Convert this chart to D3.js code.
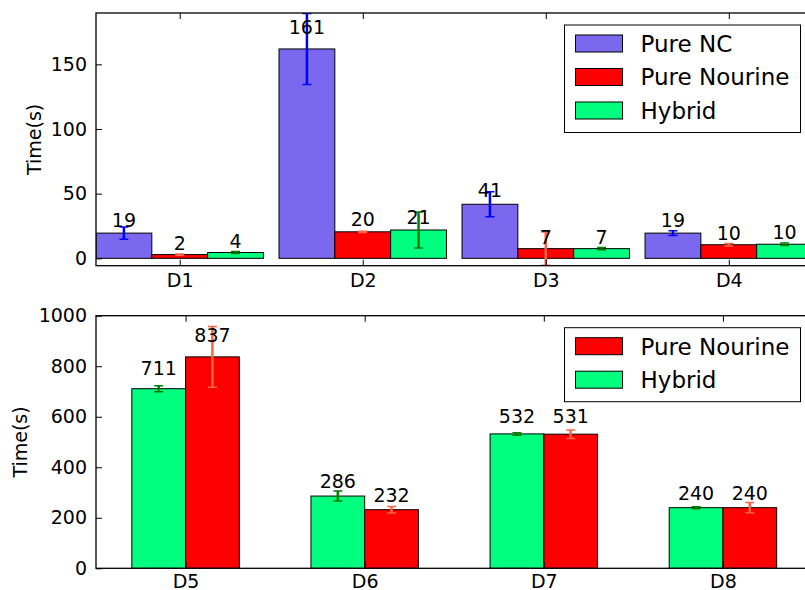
<!DOCTYPE html>
<html>
<head>
<meta charset="utf-8">
<script src="https://cdn.jsdelivr.net/npm/d3@7"></script>
<style>
  body { margin: 0; background: #fff; }
  svg { display: block; font-family: "DejaVu Sans", sans-serif; }
</style>
</head>
<body>
<div id="chart"></div>
<script>
// top panel data
const topCategories = ["D1", "D2", "D3", "D4"];
const topNC = [19.5, 161.9, 41.8, 19.5];
const topNCErr = [4.8, 27.5, 9.6, 1.8];
const topNourine = [2.9, 20.5, 7.5, 10.5];
const topNourineErr = [0.5, 0.5, 12.8, 1.0];
const topHybrid = [4.5, 21.9, 7.5, 10.9];
const topHybridErr = [0.8, 14, 0.8, 1.0];
const topTicks = [0, 50, 100, 150];

// bottom panel data
const bottomCategories = ["D5", "D6", "D7", "D8"];
const bottomHybrid = [711, 286, 532, 240];
const bottomHybridErr = [12, 20, 5, 4];
const bottomNourine = [837, 232, 531, 240];
const bottomNourineErr = [120, 13, 17, 20];
const bottomTicks = [0, 200, 400, 600, 800, 1000];

const colors = {
  nc: { fill: "#7b68ee", err: "#0000ff" },
  nourine: { fill: "#ff0000", err: "#ff6347" },
  hybrid: { fill: "#00ff7f", err: "#008000" }
};

const width = 805, height = 590;
const fontSize = 19;
const svg = d3.select("#chart").append("svg")
  .attr("width", width).attr("height", height);
svg.append("rect").attr("width", width).attr("height", height).attr("fill", "#fff");

function drawPanel(cfg) {
  const { left, right, top, bottom } = cfg.box;
  const g = svg.append("g");
  const clipId = "clip-" + cfg.name;
  svg.append("clipPath").attr("id", clipId)
    .append("rect").attr("x", left).attr("y", top)
    .attr("width", right - left).attr("height", bottom - top);

  const x = d3.scaleLinear().domain(cfg.xDomain).range([left, right]);
  const y = d3.scaleLinear().domain(cfg.yDomain).range([bottom, top]);

  const plot = g.append("g").attr("clip-path", `url(#${clipId})`);

  // bars
  cfg.series.forEach((s, si) => {
    const x0 = i => i + cfg.offset + si * cfg.barWidth;
    plot.selectAll(null).data(s.values).enter().append("rect")
      .attr("x", (d, i) => x(x0(i)))
      .attr("width", x(cfg.barWidth) - x(0))
      .attr("y", d => y(d))
      .attr("height", d => y(0) - y(d))
      .attr("fill", colors[s.key].fill)
      .attr("stroke", "#000")
      .attr("stroke-width", 1);
  });

  // value labels
  cfg.series.forEach((s, si) => {
    const xc = i => i + cfg.offset + (si + 0.5) * cfg.barWidth;
    g.selectAll(null).data(s.values).enter().append("text")
      .attr("x", (d, i) => x(xc(i)))
      .attr("y", d => y(1.05 * d) - 4.5)
      .attr("text-anchor", "middle")
      .attr("font-size", fontSize)
      .attr("fill", "#000")
      .text(d => Math.floor(d));
  });

  // error bars
  cfg.series.forEach((s, si) => {
    const xc = i => x(i + cfg.offset + (si + 0.5) * cfg.barWidth);
    const eg = plot.append("g").attr("stroke", colors[s.key].err);
    s.values.forEach((v, i) => {
      const e = s.errors[i];
      eg.append("line")
        .attr("x1", xc(i)).attr("x2", xc(i))
        .attr("y1", y(v - e)).attr("y2", y(v + e))
        .attr("stroke-width", 2.5);
      [v - e, v + e].forEach(c => {
        eg.append("line")
          .attr("x1", xc(i) - 4.5).attr("x2", xc(i) + 4.5)
          .attr("y1", y(c)).attr("y2", y(c))
          .attr("stroke-width", 1.5);
      });
    });
  });

  // axes with inward ticks on all sides
  const tickPos = cfg.categories.map((c, i) => i + cfg.tickOffset);
  const yLeft = d3.axisLeft(y).tickValues(cfg.yTicks).tickSize(-6).tickSizeOuter(0)
    .tickPadding(9).tickFormat(d3.format("d"));
  const yRight = d3.axisRight(y).tickValues(cfg.yTicks).tickSize(-6).tickSizeOuter(0).tickFormat("");
  const xBottom = d3.axisBottom(x).tickValues(tickPos).tickSize(-6).tickSizeOuter(0)
    .tickPadding(cfg.xPad).tickFormat((d, i) => cfg.categories[i]);
  const xTop = d3.axisTop(x).tickValues(tickPos).tickSize(-6).tickSizeOuter(0).tickFormat("");

  const axes = [
    [yLeft, `translate(${left},0)`],
    [yRight, `translate(${right},0)`],
    [xBottom, `translate(0,${bottom})`],
    [xTop, `translate(0,${top})`]
  ];
  axes.forEach(([ax, tr]) => {
    const a = g.append("g").attr("transform", tr).call(ax);
    a.select(".domain").remove();
    a.selectAll("line").attr("stroke", "#000").attr("stroke-width", 1);
    a.selectAll("text").attr("font-size", fontSize).attr("fill", "#000")
      .attr("font-family", "DejaVu Sans, sans-serif");
  });

  // frame
  g.append("rect")
    .attr("x", left).attr("y", top)
    .attr("width", right - left).attr("height", bottom - top)
    .attr("fill", "none").attr("stroke", "#000").attr("stroke-width", 1.3);

  // y axis title
  g.append("text")
    .attr("transform", `translate(${cfg.titleX},${(top + bottom) / 2}) rotate(-90)`)
    .attr("text-anchor", "middle")
    .attr("font-size", fontSize)
    .attr("fill", "#000")
    .text("Time(s)");

  // legend
  const rowH = 33.5, pad = 12, legW = 236;
  const legRows = cfg.legend;
  const lx = right - pad - legW, ly = top + pad;
  const legH = legRows.length * rowH + 7;
  const leg = g.append("g");
  leg.append("rect")
    .attr("x", lx).attr("y", ly).attr("width", legW).attr("height", legH)
    .attr("fill", "#fff").attr("stroke", "#000").attr("stroke-width", 1);
  legRows.forEach((r, i) => {
    const cy = ly + 18.5 + i * rowH;
    leg.append("rect")
      .attr("x", lx + 11).attr("y", cy - 8.5)
      .attr("width", 47).attr("height", 17)
      .attr("fill", colors[r.key].fill).attr("stroke", "#000").attr("stroke-width", 1);
    leg.append("text")
      .attr("x", lx + 76).attr("y", cy + 8.4)
      .attr("font-size", 23).attr("fill", "#000")
      .text(r.label);
  });
}

const topBarWidth = 0.305;
drawPanel({
  name: "top",
  box: { left: 96, right: 812.5, top: 13, bottom: 265.7 },
  xDomain: [0, 3 + 3 * topBarWidth],
  yDomain: [-5.7, 189.7],
  yTicks: topTicks,
  categories: topCategories,
  barWidth: topBarWidth,
  offset: 0,
  tickOffset: 1.5 * topBarWidth,
  xPad: 8,
  titleX: 41,
  series: [
    { key: "nc", values: topNC, errors: topNCErr },
    { key: "nourine", values: topNourine, errors: topNourineErr },
    { key: "hybrid", values: topHybrid, errors: topHybridErr }
  ],
  legend: [
    { key: "nc", label: "Pure NC" },
    { key: "nourine", label: "Pure Nourine" },
    { key: "hybrid", label: "Hybrid" }
  ]
});

drawPanel({
  name: "bottom",
  box: { left: 96, right: 812.5, top: 315.7, bottom: 568.3 },
  xDomain: [0, 4],
  yDomain: [0, 1000],
  yTicks: bottomTicks,
  categories: bottomCategories,
  barWidth: 0.3,
  offset: 0.2,
  tickOffset: 0.5,
  xPad: 6,
  titleX: 27,
  series: [
    { key: "hybrid", values: bottomHybrid, errors: bottomHybridErr },
    { key: "nourine", values: bottomNourine, errors: bottomNourineErr }
  ],
  legend: [
    { key: "nourine", label: "Pure Nourine" },
    { key: "hybrid", label: "Hybrid" }
  ]
});
</script>
</body>
</html>
